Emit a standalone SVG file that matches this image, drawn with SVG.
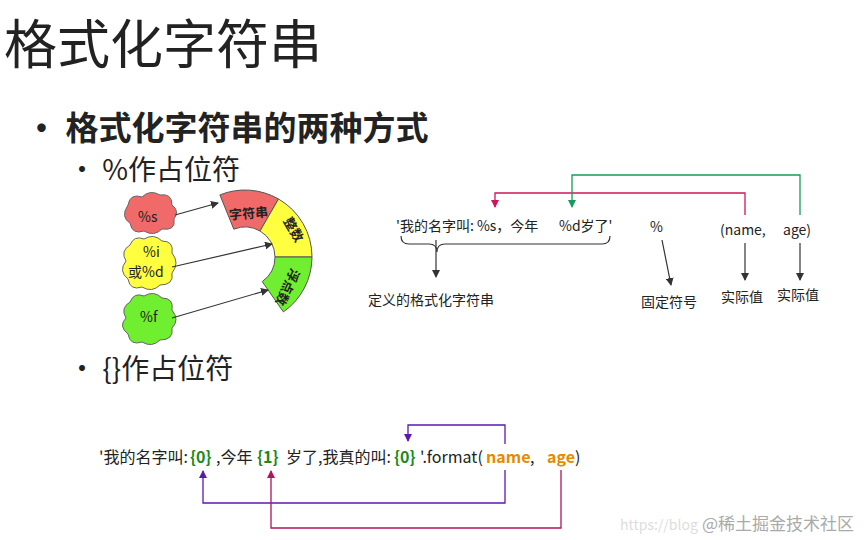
<svg xmlns="http://www.w3.org/2000/svg" width="867" height="540" viewBox="0 0 867 540">
<style>
text{font-family:"Noto Sans CJK SC","Liberation Sans",sans-serif;fill:#222}
.s{font-size:14px}
.f{font-size:16px}
.ln{fill:none;stroke:#333;stroke-width:1.2}
.g{fill:#1a8a1a;font-weight:bold}
.o{fill:#e88a00;font-weight:bold}
</style>
<defs>
<marker id="ak" markerWidth="8" markerHeight="8" refX="7" refY="4" orient="auto" markerUnits="userSpaceOnUse"><path d="M0,0L8,4L0,8z" fill="#333"/></marker>
<marker id="ar" markerWidth="8" markerHeight="8" refX="7" refY="4" orient="auto" markerUnits="userSpaceOnUse"><path d="M0,0L8,4L0,8z" fill="#d0155a"/></marker>
<marker id="ag" markerWidth="8" markerHeight="8" refX="7" refY="4" orient="auto" markerUnits="userSpaceOnUse"><path d="M0,0L8,4L0,8z" fill="#1a9a5a"/></marker>
<marker id="ap" markerWidth="8" markerHeight="8" refX="7" refY="4" orient="auto" markerUnits="userSpaceOnUse"><path d="M0,0L8,4L0,8z" fill="#5a1ab0"/></marker>
<marker id="am" markerWidth="8" markerHeight="8" refX="7" refY="4" orient="auto" markerUnits="userSpaceOnUse"><path d="M0,0L8,4L0,8z" fill="#b0155a"/></marker>
</defs>
<rect width="867" height="540" fill="#fff"/>
<text x="4" y="64" style="font-size:53px">格式化字符串</text>
<text x="25" y="140" style="font-size:33px;font-weight:bold">• 格式化字符串的两种方式</text>
<text x="68" y="180" style="font-size:28px">• %作占位符</text>
<text x="68" y="379" style="font-size:28px">• {}作占位符</text>

<g id="cloud-s"><path d="M128,205 q2,-12 14,-8 q8,-8 18,-2 q12,-2 12,10 q8,6 2,14 q2,12 -12,10 q-8,8 -18,2 q-12,4 -14,-8 q-10,-6 -2,-18z" fill="#f06a6a" stroke="#666"/><text x="138" y="222" class="s">%s</text></g>
<g id="cloud-i"><path d="M130,245 q4,-10 14,-6 q10,-6 18,2 q12,0 10,12 q8,10 0,20 q2,12 -12,12 q-8,8 -18,2 q-12,4 -14,-8 q-10,-8 -2,-18 q-6,-10 4,-16z" fill="#ffff40" stroke="#666"/><text x="143" y="257" class="s">%i</text><text x="128" y="277" class="s">或%d</text></g>
<g id="cloud-f"><path d="M130,302 q4,-10 14,-6 q10,-6 18,2 q12,0 10,12 q8,10 0,18 q2,12 -12,12 q-8,8 -18,2 q-12,4 -14,-8 q-10,-8 -2,-16 q-6,-10 4,-16z" fill="#70ee30" stroke="#666"/><text x="140" y="322" class="s">%f</text></g>

<g id="arc">
<path d="M219.9,194.9 A67,67 0 0 1 278.5,199 L260,231 A30,30 0 0 0 233.8,229.2 Z" fill="#f06a6a" stroke="#555"/>
<path d="M278.5,199 A67,67 0 0 1 312,257 L275,257 A30,30 0 0 0 260,231 Z" fill="#ffff40" stroke="#555"/>
<path d="M312,257 A67,67 0 0 1 283.4,311.9 L262.2,281.6 A30,30 0 0 0 275,257 Z" fill="#70ee30" stroke="#555"/>
<text x="229" y="218" style="font-size:13px;font-weight:bold" transform="rotate(-5 250 213)">字符串</text>
<text x="280" y="234" style="font-size:13px;font-weight:bold" transform="rotate(60 293 230)">整数</text>
<text x="278" y="284" style="font-size:13px;font-weight:bold" transform="rotate(115 290 280)">浮点数</text>
</g>

<g id="connectors">
<line x1="175" y1="215" x2="218" y2="203" class="ln" marker-end="url(#ak)"/>
<line x1="172" y1="267" x2="272" y2="244" class="ln" marker-end="url(#ak)"/>
<line x1="172" y1="318" x2="268" y2="290" class="ln" marker-end="url(#ak)"/>
<line x1="436" y1="240" x2="436" y2="277" class="ln" marker-end="url(#ak)"/>
<line x1="662" y1="240" x2="671" y2="285" class="ln" marker-end="url(#ak)"/>
<line x1="745" y1="243" x2="745" y2="280" class="ln" marker-end="url(#ak)"/>
<line x1="800" y1="243" x2="800" y2="280" class="ln" marker-end="url(#ak)"/>
<path d="M745,215 V193 H495 V207" fill="none" stroke="#d0155a" stroke-width="1.3" marker-end="url(#ar)"/>
<path d="M800,215 V175 H572 V207" fill="none" stroke="#1a9a5a" stroke-width="1.3" marker-end="url(#ag)"/>
<path d="M505,444 V425 H408 V441" fill="none" stroke="#5a1ab0" stroke-width="1.3" marker-end="url(#ap)"/>
<path d="M505,470 V503 H203 V471" fill="none" stroke="#5a1ab0" stroke-width="1.3" marker-end="url(#ap)"/>
<path d="M561,470 V528 H271 V471" fill="none" stroke="#b0155a" stroke-width="1.3" marker-end="url(#am)"/>
<path d="M401,236 q0,8 8,8 h20 q8,0 8,8 q0,-8 8,-8 h157 q8,0 8,-8" fill="none" stroke="#333" stroke-width="1.2"/>
</g>

<g id="percent-expr">
<text x="396" y="231" class="s">'我的名字叫: %s，今年</text>
<text x="559" y="231" class="s">%d岁了'</text>
<text x="650" y="232" class="s">%</text>
<text x="720" y="235" class="s">(name,</text>
<text x="783" y="235" class="s">age)</text>
<text x="368" y="305" class="s">定义的格式化字符串</text>
<text x="641" y="307" class="s">固定符号</text>
<text x="721" y="302" class="s">实际值</text>
<text x="777" y="300" class="s">实际值</text>
</g>
<g id="format-expr">
<text x="99" y="463" class="f">'我的名字叫:</text>
<text x="190" y="463" class="f g">{0}</text>
<text x="216" y="463" class="f">,今年</text>
<text x="257" y="463" class="f g">{1}</text>
<text x="286" y="463" class="f">岁了,我真的叫:</text>
<text x="394" y="463" class="f g">{0}</text>
<text x="420" y="463" class="f">'.format(</text>
<text x="486" y="463" class="f o">name</text>
<text x="530" y="463" class="f">,</text>
<text x="547" y="463" class="f o">age</text>
<text x="575" y="463" class="f">)</text>
</g>
<text x="620" y="530" style="font-size:14px;fill:#ddd">https://blog</text>
<text x="702" y="530" style="font-size:17px;fill:#aaa;font-family:'Noto Sans CJK SC',serif">@稀土掘金技术社区</text>
</svg>
